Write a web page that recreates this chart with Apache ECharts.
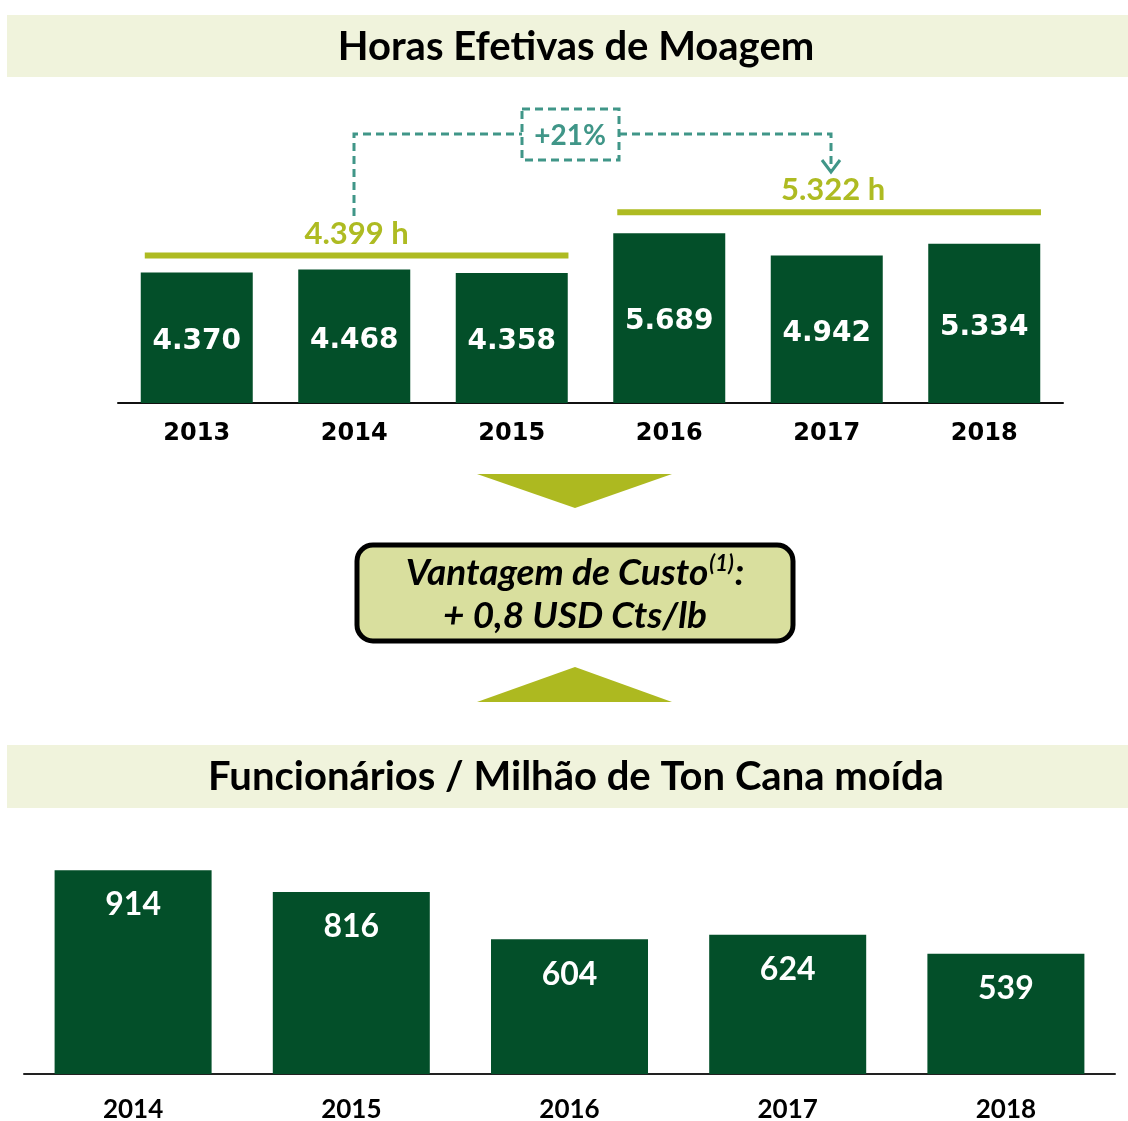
<!DOCTYPE html>
<html>
<head>
<meta charset="utf-8">
<script src="https://cdn.jsdelivr.net/npm/echarts@6/dist/echarts.min.js"></script>
<style>
  html, body { margin: 0; padding: 0; background: #fff; }
  #main { width: 1128px; height: 1121px; }
</style>
</head>
<body>
<div id="main"></div>
<script>
// dados
const hoursYears = ['2013', '2014', '2015', '2016', '2017', '2018'];
const hoursValues = [4370, 4468, 4358, 5689, 4942, 5334];
const avgStart = [0, 3];
const avgEnd = [2, 5];
const avgValues = [4399, 5322];

const staffYears = ['2014', '2015', '2016', '2017', '2018'];
const staffValues = [914, 816, 604, 624, 539];

const green = '#034f29';
const olive = '#aebb22';
const teal = '#409688';
const banner = '#f0f3dc';

const myChart = echarts.init(document.getElementById('main'));

function fmtThousands(v) {
    return (v / 1000).toFixed(3);
}

// distancia (px) da linha de media acima da barra mais alta do grupo
const avgGap = [14, 21];

const avgData = avgValues.map(function (v, i) {
    return [avgStart[i], avgEnd[i], v];
});

const option = {
    animation: false,
    grid: [
        { left: 118, right: 65, top: 194, height: 209, outerBoundsMode: 'none' },
        { left: 24, right: 13, top: 851, height: 223, outerBoundsMode: 'none' }
    ],
    xAxis: [
        {
            gridIndex: 0,
            type: 'category',
            data: hoursYears,
            axisLine: { lineStyle: { color: '#111', width: 2 } },
            axisTick: { show: false },
            axisLabel: {
                margin: 19,
                color: '#000',
                fontFamily: 'DejaVu Sans',
                fontWeight: 'bold',
                fontSize: 24
            }
        },
        {
            gridIndex: 1,
            type: 'category',
            data: staffYears,
            axisLine: { lineStyle: { color: '#222', width: 2 } },
            axisTick: { show: false },
            axisLabel: {
                margin: 23,
                color: '#000',
                fontFamily: 'Lato',
                fontWeight: 'bold',
                fontSize: 26
            }
        }
    ],
    yAxis: [
        { gridIndex: 0, type: 'value', min: 0, max: 7000, show: false },
        { gridIndex: 1, type: 'value', min: 0, max: 1000, show: false }
    ],
    series: [
        {
            name: 'Horas',
            type: 'bar',
            xAxisIndex: 0,
            yAxisIndex: 0,
            data: hoursValues,
            barWidth: 112,
            itemStyle: { color: green },
            label: {
                show: true,
                position: 'inside',
                offset: [0, 4],
                color: '#fff',
                fontFamily: 'DejaVu Sans',
                fontWeight: 'bold',
                fontSize: 28,
                formatter: function (p) { return fmtThousands(p.value); }
            }
        },
        {
            name: 'Media',
            type: 'custom',
            xAxisIndex: 0,
            yAxisIndex: 0,
            data: avgData,
            renderItem: function (params, api) {
                const i = params.dataIndex;
                const s = api.value(0), e = api.value(1), v = api.value(2);
                const groupMax = Math.max.apply(null, hoursValues.slice(s, e + 1));
                const band = api.size([1, 0])[0];
                const y = api.coord([s, groupMax])[1] - avgGap[i];
                const x0 = api.coord([s, 0])[0] - band * 0.33;
                const x1 = api.coord([e, 0])[0] + band * 0.36;
                return {
                    type: 'group',
                    children: [
                        {
                            type: 'rect',
                            shape: { x: x0, y: y - 3, width: x1 - x0, height: 6 },
                            style: { fill: olive }
                        },
                        {
                            type: 'text',
                            x: (x0 + x1) / 2 + (i === 1 ? 4 : 0),
                            y: y - 22,
                            style: {
                                text: fmtThousands(v) + ' h',
                                fill: olive,
                                font: 'bold 31px Lato',
                                align: 'center',
                                verticalAlign: 'middle'
                            }
                        }
                    ]
                };
            }
        },
        {
            name: 'Funcionarios',
            type: 'bar',
            xAxisIndex: 1,
            yAxisIndex: 1,
            data: staffValues,
            barWidth: 157,
            itemStyle: { color: green },
            label: {
                show: true,
                position: 'insideTop',
                distance: 19,
                color: '#fff',
                fontFamily: 'Lato',
                fontWeight: 'bold',
                fontSize: 32
            }
        }
    ],
    graphic: [
        // faixas de titulo
        { type: 'rect', shape: { x: 7, y: 15, width: 1121, height: 62 }, style: { fill: banner }, silent: true },
        {
            type: 'text', x: 576, y: 47,
            style: { text: 'Horas Efetivas de Moagem', font: 'bold 40px Lato', fill: '#000', align: 'center', verticalAlign: 'middle' }
        },
        { type: 'rect', shape: { x: 7, y: 745, width: 1121, height: 63 }, style: { fill: banner }, silent: true },
        {
            type: 'text', x: 576, y: 777,
            style: { text: 'Funcionários / Milhão de Ton Cana moída', font: 'bold 40px Lato', fill: '#000', align: 'center', verticalAlign: 'middle' }
        },
        // conector +21%
        {
            type: 'polyline', shape: { points: [[354, 216], [354, 134], [522, 134]] },
            style: { stroke: teal, lineWidth: 3, lineDash: [8, 5], fill: null }
        },
        {
            type: 'rect', shape: { x: 522, y: 109, width: 97, height: 51 },
            style: { stroke: teal, lineWidth: 3, lineDash: [8, 5], fill: '#fff' }
        },
        {
            type: 'text', x: 570, y: 136,
            style: { text: '+21%', font: 'bold 28px Lato', fill: teal, align: 'center', verticalAlign: 'middle' }
        },
        {
            type: 'polyline', shape: { points: [[619, 134], [831, 134], [831, 170]] },
            style: { stroke: teal, lineWidth: 3, lineDash: [8, 5], fill: null }
        },
        {
            type: 'polyline', shape: { points: [[822, 160], [831, 172], [840, 160]] },
            style: { stroke: teal, lineWidth: 3, fill: null }
        },
        // setas
        {
            type: 'polygon', shape: { points: [[477, 474], [672, 474], [575, 508]] },
            style: { fill: '#adb920' }
        },
        {
            type: 'polygon', shape: { points: [[477, 702], [672, 702], [575, 667]] },
            style: { fill: '#adb920' }
        },
        // caixa vantagem de custo
        {
            type: 'rect', shape: { x: 357, y: 545, width: 436, height: 96, r: 16 },
            style: { fill: '#d9df9e', stroke: '#000', lineWidth: 5 }
        },
        {
            type: 'text', x: 575, y: 573,
            style: {
                text: '{a|Vantagem de Custo}{s|(1)}{a|:}',
                align: 'center',
                verticalAlign: 'middle',
                rich: {
                    a: { font: 'italic bold 37px Lato', fill: '#000', lineHeight: 40 },
                    s: { font: 'italic bold 22px Lato', fill: '#000', verticalAlign: 'top', lineHeight: 40, padding: [0, 1, 14, 1] }
                }
            }
        },
        {
            type: 'text', x: 575, y: 616,
            style: { text: '+ 0,8 USD Cts/lb', font: 'italic bold 37px Lato', fill: '#000', align: 'center', verticalAlign: 'middle' }
        }
    ]
};

myChart.setOption(option);
</script>
</body>
</html>
